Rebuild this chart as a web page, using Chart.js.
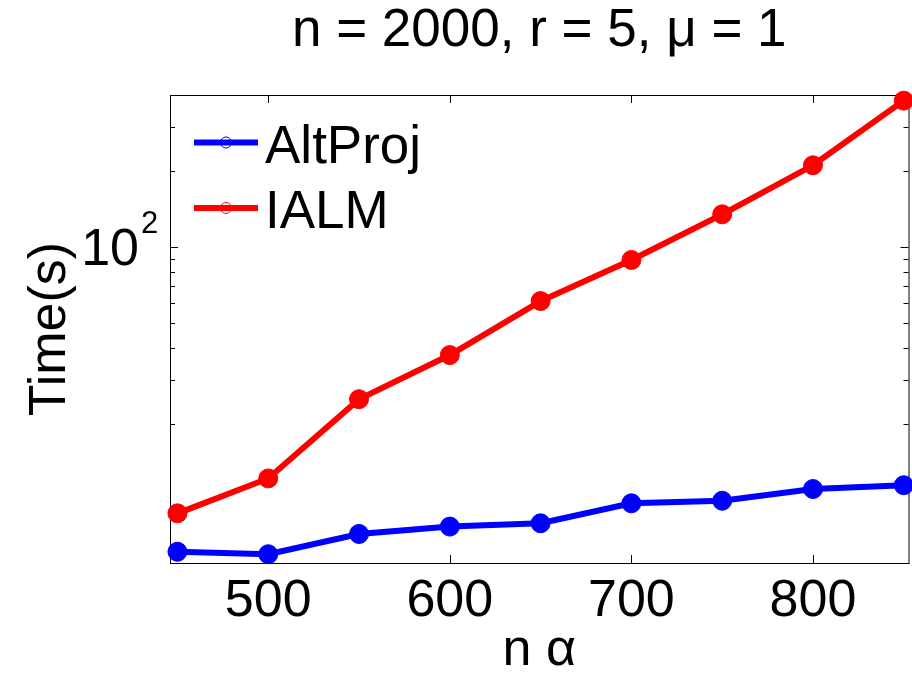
<!DOCTYPE html>
<html lang="en">
<head>
  <meta charset="UTF-8">
  <title>n = 2000, r = 5, μ = 1</title>
  <script src="https://cdn.jsdelivr.net/npm/chart.js"></script>
  <style>
    html, body {
      margin: 0;
      padding: 0;
      background: #fff;
      overflow: hidden;
    }
    canvas {
      display: block;
    }
  </style>
</head>
<body>

<!-- a little wider than the window: the right edge of the box is cut off like in the original figure -->
<canvas id="timeChart" width="919" height="673"></canvas>

<script>
  const nAlpha = [450, 500, 550, 600, 650, 700, 750, 800, 850];
  const altProjTime = [6.26, 6.12, 7.36, 7.87, 8.11, 9.73, 9.96, 11.08, 11.47];
  const ialmTime = [8.88, 12.2, 25.1, 37.5, 61.3, 89.1, 135, 211, 380];
  const xTicks = [500, 600, 700, 800];
  const yMajorTicks = [100];
  const yMinorTicks = [20, 30, 40, 50, 60, 70, 80, 90, 200, 300];

  const FONT = "'Liberation Sans', Arial, Helvetica, sans-serif";
  Chart.defaults.font.family = FONT;
  Chart.defaults.color = "#000";

  // matlab style box with inward ticks on all four sides, plus the 10^k labels
  const axesBox = {
    id: "axesBox",
    beforeDatasetsDraw(chart) {
      const { ctx, chartArea: a, scales: { x, y } } = chart;
      ctx.save();
      ctx.strokeStyle = "#000";
      ctx.lineWidth = 1;
      ctx.strokeRect(a.left + 0.5, a.top + 0.5, a.right - a.left, a.bottom - a.top);
      ctx.beginPath();
      x.ticks.forEach(t => {
        const px = Math.round(x.getPixelForValue(t.value)) + 0.5;
        ctx.moveTo(px, a.bottom);
        ctx.lineTo(px, a.bottom - 8);
        ctx.moveTo(px, a.top);
        ctx.lineTo(px, a.top + 8);
      });
      yMajorTicks.concat(yMinorTicks).forEach(v => {
        const len = yMajorTicks.includes(v) ? 8 : 5;
        const py = Math.round(y.getPixelForValue(v)) + 0.5;
        ctx.moveTo(a.left, py);
        ctx.lineTo(a.left + len, py);
        ctx.moveTo(a.right, py);
        ctx.lineTo(a.right - len, py);
      });
      ctx.stroke();

      ctx.fillStyle = "#000";
      ctx.textBaseline = "alphabetic";
      yMajorTicks.forEach(v => {
        const py = y.getPixelForValue(v);
        ctx.font = "52px " + FONT;
        ctx.textAlign = "right";
        ctx.fillText("10", a.left - 31, py + 18);
        ctx.font = "31px " + FONT;
        ctx.textAlign = "left";
        ctx.fillText(String(Math.round(Math.log10(v))), a.left - 29, py - 14);
      });
      ctx.restore();
    }
  };

  // legend drawn inside the axes, line with a small open marker
  const insideLegend = {
    id: "insideLegend",
    afterDraw(chart) {
      const { ctx, chartArea: a } = chart;
      ctx.save();
      chart.data.datasets.forEach((ds, i) => {
        const cy = a.top + 47.5 + i * 65.5;
        ctx.strokeStyle = ds.borderColor;
        ctx.lineWidth = 6;
        ctx.beginPath();
        ctx.moveTo(a.left + 24, cy);
        ctx.lineTo(a.left + 88, cy);
        ctx.stroke();
        ctx.lineWidth = 1;
        ctx.beginPath();
        ctx.arc(a.left + 56, cy, 5.5, 0, Math.PI * 2);
        ctx.stroke();
        ctx.fillStyle = "#000";
        ctx.font = "53px " + FONT;
        ctx.textAlign = "left";
        ctx.textBaseline = "alphabetic";
        ctx.fillText(ds.label, a.left + 95, cy + 20);
      });
      ctx.restore();
    }
  };

  const ctx = document.getElementById("timeChart").getContext("2d");
  const chart = new Chart(ctx, {
    type: "line",
    data: {
      datasets: [
        {
          label: "AltProj",
          data: nAlpha.map((n, i) => ({ x: n, y: altProjTime[i] })),
          borderColor: "#0000ff",
          backgroundColor: "#0000ff",
          pointBackgroundColor: "#0000ff",
          borderWidth: 6,
          pointRadius: 9.5,
          pointBorderWidth: 1,
          tension: 0,
          clip: false
        },
        {
          label: "IALM",
          data: nAlpha.map((n, i) => ({ x: n, y: ialmTime[i] })),
          borderColor: "#ff0000",
          backgroundColor: "#ff0000",
          pointBackgroundColor: "#ff0000",
          borderWidth: 6,
          pointRadius: 9.5,
          pointBorderWidth: 1,
          tension: 0,
          clip: false
        }
      ]
    },
    options: {
      responsive: false,
      animation: false,
      layout: {
        padding: { left: 0, right: 2, top: 0, bottom: 0 }
      },
      plugins: {
        legend: { display: false },
        tooltip: { enabled: false },
        title: {
          display: true,
          fullSize: false,
          text: "n = 2000, r = 5, μ = 1",
          color: "#000",
          font: { size: 53, weight: "normal" },
          padding: { top: 0, bottom: 31.4 }
        }
      },
      scales: {
        x: {
          type: "linear",
          min: 445.9,
          max: 852.6,
          afterBuildTicks: s => { s.ticks = xTicks.map(v => ({ value: v })); },
          afterFit: s => {
            s.height = 110;
            s.paddingLeft = 0;
            s.paddingRight = 0;
          },
          grid: { display: false, drawTicks: false },
          border: { display: false },
          ticks: {
            font: { size: 52 },
            color: "#000",
            padding: 7,
            maxRotation: 0,
            autoSkip: false
          },
          title: {
            display: true,
            text: "n α",
            color: "#000",
            font: { size: 52, lineHeight: 0.865 },
            padding: 0
          }
        },
        y: {
          type: "logarithmic",
          min: 5.65,
          max: 400,
          afterFit: s => {
            s.width = 170;
            s.paddingTop = 0;
            s.paddingBottom = 0;
          },
          grid: { display: false, drawTicks: false },
          border: { display: false },
          ticks: { display: false },
          title: {
            display: true,
            text: "Time(s)",
            color: "#000",
            font: { size: 52 },
            padding: { top: 19, bottom: 0 }
          }
        }
      }
    },
    plugins: [axesBox, insideLegend]
  });
</script>

</body>
</html>
